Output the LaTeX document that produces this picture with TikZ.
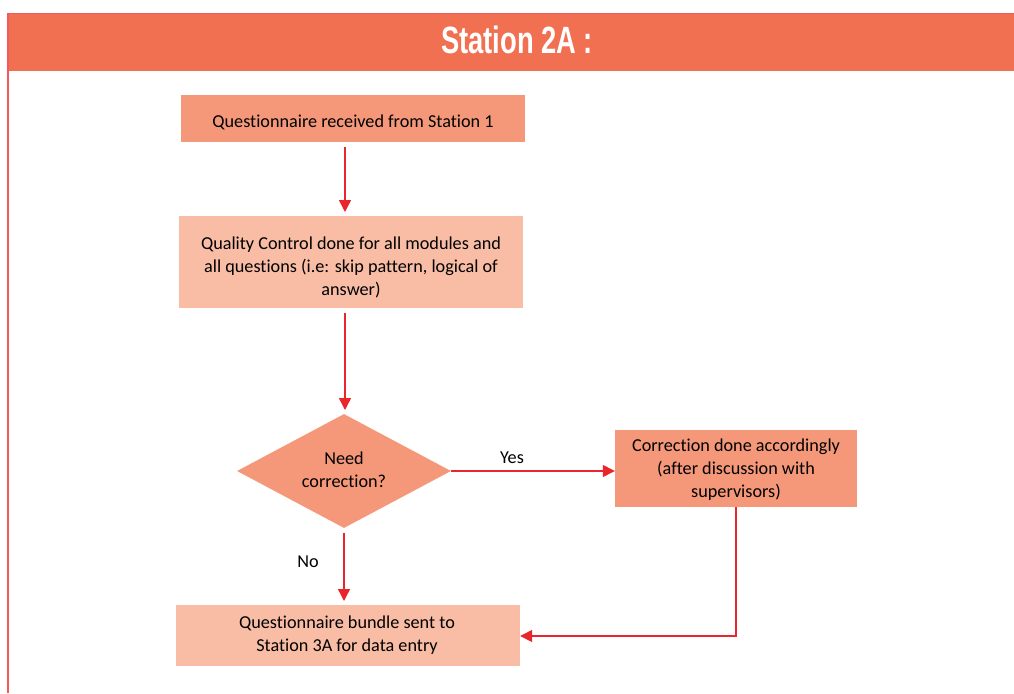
\documentclass[tikz,border=0pt]{standalone}
\usepackage{fontspec}
\setmainfont{Carlito}[Ligatures=NoCommon]
\newfontfamily\headfont[FakeStretch=0.72]{Liberation Sans}
\usetikzlibrary{arrows.meta,shapes.geometric}
\definecolor{headfill}{RGB}{242,112,82}
\definecolor{dark}{RGB}{245,152,122}
\definecolor{light}{RGB}{249,189,165}
\definecolor{arr}{RGB}{232,38,43}
\definecolor{frame}{RGB}{240,90,90}
\tikzset{
  base/.style={font=\fontsize{18.2}{22.8}\selectfont, align=center, inner sep=0pt, text=black},
  darkbox/.style={base, rectangle, fill=dark},
  lightbox/.style={base, rectangle, fill=light},
  flow/.style={draw=arr, line width=1.4pt, -{Triangle[width=12pt,length=12pt]}},
  lbl/.style={font=\fontsize{18.2}{22}\selectfont, inner sep=0pt}
}
\begin{document}
\begin{tikzpicture}[x=1pt,y=-1pt]
\useasboundingbox (0,0) rectangle (1014,693);
\fill[white] (0,0) rectangle (1014,693);
% header
\fill[headfill] (7,13) rectangle (1014,71);
\draw[frame, line width=1pt] (7,13.5) -- (1014,13.5);
\draw[frame, line width=2pt] (7.5,13) -- (7.5,693);
\node[inner sep=0pt, text=white, font=\headfont\bfseries\fontsize{38}{40}\selectfont] (title) at (517,40) {Station 2A :};
% nodes
\node[darkbox, minimum width=344pt, minimum height=47pt] (b1) at (353,118.5) {};
\node[base] (t1) at (353,122) {Questionnaire received from Station 1};
\node[lightbox, minimum width=344pt, minimum height=92pt] (b2) at (351,262) {};
\node[base] (t2) at (351,267.5) {Quality Control done for all modules and\\ all questions (i.e: skip pattern, logical of\\ answer)};
\node[base, diamond, fill=dark, minimum width=214pt, minimum height=114pt, aspect=1.877] (d) at (344,471) {};
\node[base] (dt) at (344,469.5) {Need\\ correction?};
\node[darkbox, minimum width=242pt, minimum height=77pt] (b3) at (736,468.5) {};
\node[base] (t3) at (736,469.5) {Correction done accordingly\\ (after discussion with\\ supervisors)};
\node[lightbox, minimum width=344pt, minimum height=61pt] (b4) at (348,635.5) {};
\node[base] (t4) at (347,635) {Questionnaire bundle sent to\\ Station 3A for data entry};
% connectors
\coordinate (a1s) at (345,147);
\coordinate (a1e) at (345,212);
\draw[flow] (a1s) -- (a1e);
\coordinate (a2s) at (345,313);
\coordinate (a2e) at (345,410);
\draw[flow] (a2s) -- (a2e);
\draw[flow] (d.east) -- (d.east -| b3.west);
\node[lbl] (yes) at (512,458) {Yes};
\coordinate (a3s) at (344,533);
\coordinate (a3e) at (344,601);
\draw[flow] (a3s) -- (a3e);
\node[lbl] (no) at (308,562) {No};
\draw[flow] (b3.south) |- (b4.east |- 0,636);
\end{tikzpicture}
\end{document}
